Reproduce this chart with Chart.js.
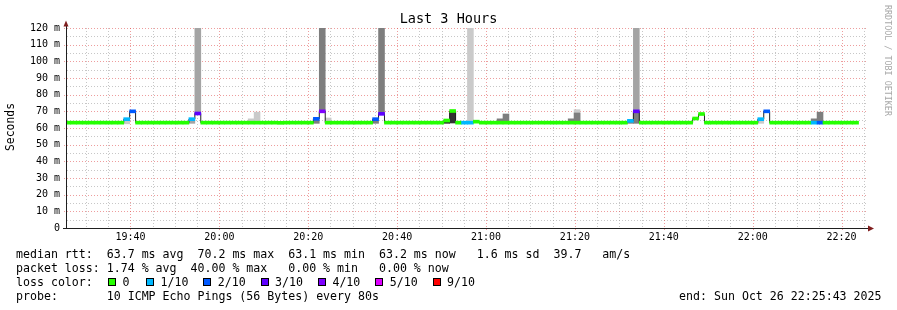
<!DOCTYPE html>
<html>
<head>
<meta charset="utf-8">
<script src="https://cdn.jsdelivr.net/npm/chart.js@4.4.1/dist/chart.umd.min.js"></script>
<style>
  html, body { margin: 0; padding: 0; background: #fff; }
  canvas { display: block; }
</style>
</head>
<body>
<canvas id="smoke" width="897" height="310"></canvas>
<script>
// ---- data ----
const graphStart = '19:25:43';
const graphEnd = '22:25:43';
const firstSampleEnd = '19:26:29';
const STEP = 80; // seconds between samples

const timeTicks = ['19:40', '20:00', '20:20', '20:40', '21:00', '21:20', '21:40', '22:00', '22:20'];
const yTicks = [0, 10, 20, 30, 40, 50, 60, 70, 80, 90, 100, 110, 120];

// median rtt per 80s sample (ms)
const median = [
  63.2, 63.2, 63.2, 63.2, 63.2, 63.2, 63.2, 63.2, 63.2, 63.2,
  65.3, 70.0, 63.2, 63.2, 63.2, 63.2, 63.2, 63.2, 63.2, 63.2,
  63.2, 65.3, 68.7, 63.2, 63.2, 63.2, 63.2, 63.2, 63.2, 63.2,
  63.2, 63.2, 63.2, 63.2, 63.2, 63.2, 63.1, 63.2, 63.2, 63.2,
  63.2, 63.2, 65.5, 70.0, 63.2, 63.2, 63.2, 63.2, 63.2, 63.2,
  63.2, 63.2, 65.3, 68.5, 63.2, 63.2, 63.2, 63.2, 63.2, 63.2,
  63.2, 63.2, 63.2, 63.2, 64.5, 70.2, 63.2, 63.2, 63.2, 63.8,
  63.2, 63.2, 63.2, 63.2, 63.2, 63.2, 63.2, 63.2, 63.2, 63.2,
  63.2, 63.2, 63.2, 63.2, 63.2, 63.2, 63.2, 63.2, 63.2, 63.2,
  63.2, 63.2, 63.2, 63.2, 63.2, 64.3, 70.0, 63.2, 63.2, 63.2,
  63.2, 63.2, 63.2, 63.2, 63.2, 63.2, 65.7, 68.4, 63.2, 63.2,
  63.2, 63.2, 63.2, 63.2, 63.2, 63.2, 63.2, 65.3, 70.0, 63.2,
  63.2, 63.2, 63.2, 63.2, 63.2, 63.2, 63.2, 63.2, 63.2, 63.2,
  63.2, 63.2, 63.2, 63.2
];

// lost pings (out of 10) per sample
const lossCount = [
  0, 0, 0, 0, 0, 0, 0, 0, 0, 0,
  1, 2, 0, 0, 0, 0, 0, 0, 0, 0,
  0, 1, 3, 0, 0, 0, 0, 0, 0, 0,
  0, 0, 0, 0, 0, 0, 0, 0, 0, 0,
  0, 0, 2, 4, 0, 0, 0, 0, 0, 0,
  0, 0, 2, 3, 0, 0, 0, 0, 0, 0,
  0, 0, 0, 0, 0, 0, 0, 1, 1, 0,
  0, 0, 0, 0, 0, 0, 0, 0, 0, 0,
  0, 0, 0, 0, 0, 0, 0, 0, 0, 0,
  0, 0, 0, 0, 0, 1, 3, 0, 0, 0,
  0, 0, 0, 0, 0, 0, 0, 0, 0, 0,
  0, 0, 0, 0, 0, 0, 0, 1, 2, 0,
  0, 0, 0, 0, 0, 0, 1, 2, 0, 0,
  0, 0, 0, 0
];

// smoke layers: [sample index, low ms, high ms], outermost first
const smoke1 = [[10, 62.5, 64.4], [31, 63, 65.5], [32, 63, 69.5], [44, 63, 66], [68, 63, 150], [86, 63, 71], [117, 62.8, 64.4]];
const smoke2 = [[21, 62.8, 64.5], [22, 68.5, 150], [96, 70, 150]];
const smoke3 = [[42, 62.8, 64.6], [43, 70, 150], [52, 62.8, 64.4], [53, 68.5, 150], [73, 63, 65.5], [74, 63, 68.4],
                [85, 63, 65.5], [86, 63, 69], [95, 62.8, 63.6], [96, 62.8, 70], [126, 63, 65.5], [127, 63, 69.5]];
const smoke4 = [];
const smoke5 = [[64, 62.8, 64], [65, 63, 70]];

const lossLabels = ['0', '1/10', '2/10', '3/10', '4/10', '5/10', '9/10'];
const lossColors = ['#26ff00', '#00b8ff', '#0059ff', '#5e00ff', '#7e00ff', '#dd00ff', '#ff0000'];

const statLine1 = 'median rtt:  63.7 ms avg  70.2 ms max  63.1 ms min  63.2 ms now   1.6 ms sd  39.7   am/s';
const statLine2 = 'packet loss: 1.74 % avg  40.00 % max   0.00 % min   0.00 % now';
const probeLine = 'probe:       10 ICMP Echo Pings (56 Bytes) every 80s';
const endLine = 'end: Sun Oct 26 22:25:43 2025';

// ---- helpers ----
const MONO = '"DejaVu Sans Mono", monospace';
const toSec = s => { const [h, m, sec = 0] = s.split(':').map(Number); return h * 3600 + m * 60 + sec; };
const tStart = toSec(graphStart);
const tEnd = toSec(graphEnd);
const sampleTime = k => toSec(firstSampleEnd) - STEP / 2 + STEP * k;
const lossColor = n => lossColors[n >= 9 ? 6 : n >= 5 ? 5 : n];
const BAND = 0.9; // half thickness of the median band, ms

const smokeShades = ['#cacaca', '#a4a4a4', '#7e7e7e', '#585858', '#323232'];
const smokeDatasets = [smoke1, smoke2, smoke3, smoke4, smoke5].map((layer, i) => ({
  type: 'bar',
  data: layer.map(([k, lo, hi]) => ({ x: sampleTime(k), y: [lo, hi] })),
  backgroundColor: smokeShades[i],
  borderWidth: 0,
  grouped: false,
  barPercentage: 1,
  categoryPercentage: 1,
  order: 20 - i,
}));

const GRID = 'rgba(143,143,143,0.5)';
const MGRID = 'rgba(222,60,60,0.5)';

const decor = {
  id: 'decor',
  beforeDraw(chart) {
    const ctx = chart.ctx;
    ctx.save();
    ctx.fillStyle = '#fff';
    ctx.fillRect(0, 0, chart.width, chart.height);
    ctx.restore();
  },
  beforeDatasetsDraw(chart) {
    const { ctx, chartArea: a, scales: { x, y } } = chart;
    ctx.save();
    ctx.lineWidth = 1;
    ctx.setLineDash([1, 2]);
    const vline = (t, color, y2) => {
      const px = Math.round(x.getPixelForValue(t)) + 0.5;
      ctx.strokeStyle = color;
      ctx.beginPath(); ctx.moveTo(px, a.top); ctx.lineTo(px, y2); ctx.stroke();
    };
    const hline = (v, color, x1) => {
      const py = Math.round(y.getPixelForValue(v)) + 0.5;
      ctx.strokeStyle = color;
      ctx.beginPath(); ctx.moveTo(x1, py); ctx.lineTo(a.right, py); ctx.stroke();
    };
    for (let t = Math.ceil(tStart / 300) * 300; t <= tEnd; t += 300) {
      if (t % 1200) vline(t, GRID, a.bottom);
    }
    for (let v = 5; v <= 120; v += 10) hline(v, GRID, a.left);
    for (let t = Math.ceil(tStart / 1200) * 1200; t <= tEnd; t += 1200) vline(t, MGRID, a.bottom + 2);
    for (let v = 10; v <= 120; v += 10) hline(v, MGRID, a.left - 3);
    ctx.restore();
  },
  afterDraw(chart) {
    const { ctx, chartArea: a } = chart;
    ctx.save();
    // axes
    ctx.fillStyle = '#1f1f1f';
    ctx.fillRect(a.left - 1, 24, 1, a.bottom - 24 + 1);
    ctx.fillRect(a.left - 4, a.bottom, a.right - a.left + 8, 1);
    ctx.fillStyle = '#801f1f';
    ctx.beginPath();
    ctx.moveTo(a.left - 3.5, 26.5); ctx.lineTo(a.left + 1.5, 26.5); ctx.lineTo(a.left - 1, 20.5); ctx.closePath(); ctx.fill();
    ctx.beginPath();
    ctx.moveTo(a.right + 1, a.bottom - 2.5); ctx.lineTo(a.right + 1, a.bottom + 3.5); ctx.lineTo(a.right + 7, a.bottom + 0.5); ctx.closePath(); ctx.fill();

    // title
    ctx.fillStyle = '#000';
    ctx.textBaseline = 'middle';
    ctx.textAlign = 'center';
    ctx.font = '13.5px ' + MONO;
    ctx.fillText('Last 3 Hours', 448.5, 19);

    // y axis title
    ctx.save();
    ctx.translate(11, 127);
    ctx.rotate(-Math.PI / 2);
    ctx.font = '11.4px ' + MONO;
    ctx.fillText('Seconds', 0, 0);
    ctx.restore();

    // watermark
    ctx.save();
    ctx.translate(887.5, 5);
    ctx.rotate(Math.PI / 2);
    ctx.textAlign = 'left';
    ctx.fillStyle = '#a8a8a8';
    ctx.font = '8.4px ' + MONO;
    ctx.fillText('RRDTOOL / TOBI OETIKER', 0, 0);
    ctx.restore();

    // legend
    ctx.textAlign = 'left';
    ctx.font = '11.6px ' + MONO;
    ctx.fillText(statLine1, 16, 254.5);
    ctx.fillText(statLine2, 16, 268.5);
    ctx.fillText('loss color:', 16, 282.5);
    ctx.fillText(probeLine, 16, 296.5);
    ctx.textAlign = 'right';
    ctx.fillText(endLine, 881.5, 296.5);
    ctx.textAlign = 'left';
    lossLabels.forEach((lab, i) => {
      const bx = i === 0 ? 108 : 146 + 57.3 * (i - 1);
      ctx.fillStyle = lossColors[i];
      ctx.fillRect(Math.round(bx), 278, 8, 8);
      ctx.strokeStyle = '#000';
      ctx.lineWidth = 1;
      ctx.strokeRect(Math.round(bx) + 0.5, 278.5, 7, 7);
      ctx.fillStyle = '#000';
      ctx.fillText(lab, bx + 14.5, 282.5);
    });
    ctx.restore();
  }
};

new Chart(document.getElementById('smoke'), {
  type: 'bar',
  data: {
    datasets: [
      {
        type: 'bar',
        data: median.map((m, k) => ({ x: sampleTime(k), y: [m - BAND, m + BAND] })),
        backgroundColor: lossCount.map(lossColor),
        borderWidth: 0,
        grouped: false,
        barPercentage: 1,
        categoryPercentage: 1,
        order: 1,
      },
      {
        type: 'line',
        data: median.map((m, k) => ({ x: sampleTime(k), y: m })),
        borderColor: '#202020',
        borderWidth: 1,
        stepped: 'middle',
        pointRadius: 0,
        fill: false,
        order: 2,
      },
      ...smokeDatasets,
    ],
  },
  options: {
    responsive: false,
    animation: false,
    devicePixelRatio: 1,
    events: [],
    layout: { padding: { top: 28, right: 30, left: 0, bottom: 0 } },
    plugins: { legend: { display: false }, tooltip: { enabled: false } },
    scales: {
      x: {
        type: 'linear',
        min: tStart,
        max: tEnd,
        offset: false,
        grid: { display: false, drawTicks: false },
        border: { display: false },
        afterBuildTicks: s => { s.ticks = timeTicks.map(t => ({ value: toSec(t) })); },
        afterFit: s => { s.height = 82; },
        ticks: {
          autoSkip: false,
          maxRotation: 0,
          padding: 3,
          color: '#000',
          font: { family: MONO, size: 10 },
          callback: (v, i) => timeTicks[i],
        },
      },
      y: {
        min: 0,
        max: 120,
        grid: { display: false, drawTicks: false },
        border: { display: false },
        afterBuildTicks: s => { s.ticks = yTicks.map(v => ({ value: v })); },
        afterFit: s => { s.width = 67; },
        ticks: {
          padding: 7,
          color: '#000',
          font: { family: MONO, size: 10 },
          callback: v => (v === 0 ? '0' : v + ' m'),
        },
      },
    },
  },
  plugins: [decor],
});
</script>
</body>
</html>
